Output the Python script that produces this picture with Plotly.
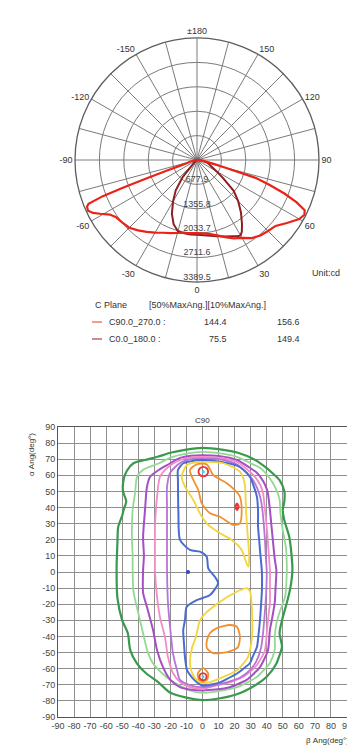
import plotly.graph_objects as go

# ---------------- Polar photometric data (cd vs gamma, deg) ----------------
c90_gamma = [0, 5, 10, 15, 20, 25, 30, 35, 40, 45, 50, 55, 60, 63, 65, 67, 69, 71, 73, 75, 77, 80, 85, 90, 100, 120, 150, 180]
c90_cd = [2030, 2045, 2090, 2170, 2280, 2400, 2500, 2650, 2740, 2790, 2850, 3050, 3280, 3350, 3300, 3000, 2600, 2150, 1700, 800, 450, 250, 100, 40, 15, 5, 0, 0]
c270_gamma = [0, 5, 10, 15, 20, 25, 30, 35, 40, 45, 50, 55, 58, 61, 63, 65, 67, 68, 69, 69.5, 70, 70.5, 71.5, 73, 76, 80, 90, 120, 150, 180]
c270_cd = [2030, 2040, 2060, 2100, 2160, 2230, 2330, 2440, 2550, 2660, 2705, 2760, 2860, 3080, 3240, 3340, 3320, 3250, 2800, 2200, 1500, 900, 450, 300, 200, 100, 30, 10, 0, 0]
c0_gamma = [0, 5, 10, 15, 20, 25, 28, 30, 32, 35, 40, 45, 50, 55, 60, 65, 70, 75, 80, 85, 90, 100, 120, 180]
c0_cd = [2080, 2100, 2140, 2190, 2260, 2340, 2400, 2420, 2350, 2180, 1900, 1620, 1330, 900, 620, 450, 370, 300, 200, 100, 40, 20, 5, 0]
c180_gamma = [0, 5, 10, 15, 20, 25, 30, 35, 40, 42, 45, 50, 60, 90, 180]
c180_cd = [2080, 2075, 2070, 2050, 1900, 1650, 1330, 1030, 620, 300, 150, 60, 20, 5, 0]

radial_vals = [677.9, 1355.8, 2033.7, 2711.6, 3389.5]
radial_labels = ["677.9", "1355.8", "2033.7", "2711.6", "3389.5"]
angle_vals = list(range(0, 360, 15))
angle_labels = {0: "0", 30: "30", 60: "60", 90: "90", 120: "120", 150: "150", 180: "±180",
                210: "-150", 240: "-120", 270: "-90", 300: "-60", 330: "-30"}

legend_planes = ["C90.0_270.0 :", "C0.0_180.0 :"]
legend_50 = ["144.4", "75.5"]
legend_10 = ["156.6", "149.4"]

# ---------------- Iso-candela contour lines (beta, alpha) ----------------
dark_green = [(0, 77), (12, 76), (22, 74), (32, 70), (38, 66), (44, 61), (48, 57), (51, 50), (51, 44), (50, 38.5), (51, 32), (54, 22), (55.5, 10), (56, 1), (54.5, -11), (52, -21), (49.5, -30), (48, -38), (49.5, -46.5), (47.5, -53), (46, -57), (40, -65), (30, -72), (21, -76), (10, -78.5), (0, -79.5), (-10, -78), (-20, -75), (-28, -68), (-35, -63), (-41, -56.5), (-45, -48.5), (-46.5, -38), (-50, -30), (-53, -16), (-53.5, 2), (-53, 18), (-52.5, 28), (-50, 35), (-49, 39), (-47.5, 44), (-49.5, 50), (-49, 58), (-47, 63), (-43, 67.5), (-36, 69.5), (-28, 71.5), (-20, 74), (-10, 76), (0, 77)]
light_green = [(0, 74.5), (12, 73.5), (21.5, 71.5), (30, 67.5), (36, 64.5), (42, 58), (45.5, 52), (48, 45), (48.5, 37), (50, 26), (52, 15), (52.5, 5), (52.5, 0), (51.5, -15), (48, -25), (46, -32), (45, -40), (45, -48), (42, -56.5), (38, -61), (34, -65), (28, -68.5), (21.5, -71.5), (10, -74), (0, -75), (-8, -73.5), (-15, -70), (-20, -67), (-25, -63), (-31, -56.5), (-34.5, -48.5), (-37, -38), (-40, -25.5), (-43, -12), (-43.5, 1), (-43.5, 10), (-44, 22), (-43.5, 38.5), (-42, 49), (-40.8, 59), (-37, 63.5), (-27, 67.5), (-20, 71), (-10, 73.5), (0, 74.5)]
purple = [(0, 72.5), (10, 72), (21.5, 69.5), (29, 65), (34, 61.5), (38, 56), (40.5, 50), (42, 38.5), (43, 28), (44, 18), (45, 8), (46, 1), (45.5, -10), (45, -19), (43.5, -28), (42, -36), (40.8, -48.5), (38.5, -54), (35.8, -59), (31, -64), (27.5, -67), (17, -71.5), (8, -73), (0, -73.5), (-8, -73), (-14, -71.5), (-20, -67), (-24.6, -59), (-28.3, -48.5), (-30.8, -36), (-34.6, -21.7), (-37, -13), (-37, 1), (-36.5, 10), (-37, 21.7), (-35.8, 38.5), (-34.6, 52.8), (-32.7, 59), (-27, 63.5), (-22, 66.4), (-14, 70.8), (-7, 72.2), (0, 72.5)]
pink = [(0, 71.5), (10, 71), (21.5, 68.3), (28, 63.5), (32.7, 59), (36, 54), (37.7, 49), (38.9, 38.5), (40, 28), (40.8, 18), (41.5, 8), (42, 1), (42, -10), (42, -19), (41, -28), (40.2, -36), (38.9, -48.5), (36.5, -53.5), (33.9, -57.7), (29.5, -62), (25.2, -65.2), (15.3, -69), (7, -70.8), (0, -72.5), (-8, -71.5), (-14, -68.3), (-18.4, -62.7), (-21.5, -52.8), (-23.4, -40.3), (-26.5, -28), (-28.3, -15.5), (-29.6, 1), (-29.6, 10), (-29.6, 28), (-28.3, 46.6), (-26.5, 59), (-22, 64.6), (-14, 69.5), (-7, 71.2), (0, 71.5)]
violet = [(0, 70.5), (10, 70), (21, 67), (27, 62), (31.5, 57), (34.5, 51), (36.3, 45), (37.3, 38.5), (38.3, 28), (39, 18), (39.5, 8), (40, 1), (39.8, -10), (39.3, -19.2), (38.6, -28), (37.8, -37), (36.5, -47), (33.5, -55.5), (30, -60.5), (23.5, -65.5), (15, -68.5), (7, -70.5), (0, -71.5), (-7, -70.5), (-14, -67), (-15.9, -60.8), (-18.4, -50.3), (-20.2, -34.1), (-21.5, -19.2), (-22.1, 1), (-22.1, 20), (-22.1, 40), (-22.1, 52.8), (-20.2, 61.5), (-14, 67.7), (-7, 70), (0, 70.5)]
blue = [(0, 69.5), (10.9, 68.5), (21.5, 66), (26, 63), (29.6, 59), (32, 53), (33.9, 46.6), (34.6, 38), (34.6, 27.9), (35.3, 20), (35.8, 13.7), (36.5, 6), (37, 0), (37, -11.2), (36.5, -20), (35.8, -29.8), (35, -38), (33.9, -46.6), (31.5, -52), (29.6, -56.5), (25.5, -60), (21.5, -63), (15, -66.5), (10.9, -68.5), (0.3, -70.5), (-3.4, -68.5), (-7, -65), (-9.7, -60.8), (-11, -52), (-11.5, -45), (-12, -36), (-10.9, -29.8), (-9.8, -21.5), (-3.6, -17.4), (4.7, -14.3), (9.7, -6.8), (7.8, -3.1), (3.6, 2.3), (2.6, 9.5), (-1.6, 12.6), (-7.8, 13.7), (-14, 19.9), (-15, 36.4), (-15.3, 57.1), (-15.3, 63.3), (-12, 67.5), (-6, 69), (0, 69.5)]
yellow_upper = [(0.5, 68.3), (7, 68.2), (13, 67.5), (19, 65), (23.3, 62.3), (25.5, 58), (26.5, 53), (27.1, 38.5), (27.9, 26.1), (28.7, 16), (29.1, 9.5), (28.5, 3.3), (26.5, 8), (24.4, 13.7), (18.2, 19.9), (10.9, 24), (2.6, 30.2), (-1.6, 36.4), (-5.7, 44.7), (-10.9, 53), (-13, 59.2), (-11.5, 63.5), (-9.8, 66.4), (-5, 67.9), (0.5, 68.3)]
yellow_lower = [(27.7, -10), (29.6, -12), (30.8, -23.6), (30.8, -40.3), (28.3, -52.8), (24, -58.5), (21.5, -61), (10.9, -66), (4, -68.5), (0.3, -69), (-3, -67.5), (-5.9, -64), (-7.5, -59), (-7.8, -54.6), (-6.5, -47), (-4, -40), (-1.6, -30), (2, -25.5), (6.5, -21.7), (13, -17), (19, -13.5), (24, -11), (27.7, -10)]
orange_upper = [(-3.6, 66.8), (2.6, 66.8), (6.7, 60.2), (15.1, 55.1), (20, 51), (23.3, 46.7), (24.4, 38.5), (23.3, 30.2), (19.2, 29.2), (10.9, 34.3), (4.7, 36.4), (-0.5, 42.6), (-2.6, 50.9), (-5.7, 57.1), (-7.8, 63.3), (-3.6, 66.8)]
orange_mid = [(4.7, -37.9), (9, -34.8), (17.1, -32.9), (21.5, -34.1), (23.3, -40.3), (22.1, -46.6), (15.3, -49.7), (6.5, -50.3), (2.8, -47.2), (2.8, -42.2), (4.7, -37.9)]
orange_low = [(0.3, -59.5), (3.5, -63), (3, -66.5), (0.3, -68), (-2.4, -66.5), (-2.9, -63), (0.3, -59.5)]
red_upper = [(0.5, 65.3), (2.6, 64.4), (3.5, 62.3), (2.6, 60.2), (0.5, 59.3), (-1.6, 60.2), (-2.5, 62.3), (-1.6, 64.4), (0.5, 65.3)]
red_lower = [(0.3, -62.8), (2, -63.6), (2.5, -65), (2, -66.4), (0.3, -67.2), (-1.4, -66.4), (-1.9, -65), (-1.4, -63.6), (0.3, -62.8)]
red_spot = [(21.5, 42.5), (22.4, 40.5), (21.5, 38.5), (20.6, 40.5), (21.5, 42.5)]
cyan_points = [(0.5, 62.3), (0.3, -65)]
blue_points = [(-9, 0)]

axis_ticks = list(range(-90, 91, 10))

contours = [
    (dark_green, "#3a9a4c", 2.2),
    (light_green, "#93d993", 1.8),
    (purple, "#a54ec6", 2.0),
    (pink, "#f28cc6", 1.8),
    (violet, "#b873d8", 1.8),
    (blue, "#4a6cd2", 2.0),
    (yellow_upper, "#f3d43a", 1.8),
    (yellow_lower, "#f3d43a", 1.8),
    (orange_upper, "#f2902e", 1.8),
    (orange_mid, "#f2902e", 1.8),
    (orange_low, "#f2902e", 1.8),
    (red_upper, "#e83535", 1.8),
    (red_lower, "#e83535", 1.8),
    (red_spot, "#e83535", 2.2),
]

FONT = "Liberation Sans, Arial, sans-serif"
fig = go.Figure()

# polar curves
red_theta = [-g for g in reversed(c270_gamma)] + c90_gamma[1:]
red_r = list(reversed(c270_cd)) + c90_cd[1:]
dark_theta = [-g for g in reversed(c180_gamma)] + c0_gamma[1:]
dark_r = list(reversed(c180_cd)) + c0_cd[1:]

fig.add_trace(go.Scatterpolar(r=dark_r, theta=dark_theta, mode="lines",
                              line=dict(color="#8c1f1f", width=2), subplot="polar",
                              showlegend=False, hoverinfo="skip"))
fig.add_trace(go.Scatterpolar(r=red_r, theta=red_theta, mode="lines",
                              line=dict(color="#ec2218", width=2.2), subplot="polar",
                              showlegend=False, hoverinfo="skip"))
fig.add_trace(go.Scatterpolar(r=radial_vals, theta=[0] * len(radial_vals), mode="text",
                              text=radial_labels, textposition="top center",
                              textfont=dict(size=9, color="#444", family=FONT),
                              subplot="polar", showlegend=False, hoverinfo="skip"))

# contour lines
for pts, col, w in contours:
    fig.add_trace(go.Scatter(x=[p[0] for p in pts], y=[p[1] for p in pts], mode="lines",
                             line=dict(color=col, width=w, shape="spline", smoothing=0.7),
                             xaxis="x", yaxis="y", showlegend=False, hoverinfo="skip"))
fig.add_trace(go.Scatter(x=[p[0] for p in cyan_points], y=[p[1] for p in cyan_points], mode="markers",
                         marker=dict(color="#3fd0e6", size=3), showlegend=False, hoverinfo="skip"))
fig.add_trace(go.Scatter(x=[p[0] for p in blue_points], y=[p[1] for p in blue_points], mode="markers",
                         marker=dict(color="#2a44c8", size=4, symbol="circle"), showlegend=False, hoverinfo="skip"))

# The page body has an 8px default margin: the figure is drawn from (8, 8) of the window.
OFF = 8.0
W = 355.0 - OFF
H = 747.0 - OFF


def py(ypx):
    return (H - (ypx - OFF)) / H


def px(xpx):
    return (xpx - OFF) / W


def note(text, x, y, size=9, xanchor="center", **kw):
    return dict(text=text, x=x, y=y, xref=kw.pop("xref", "paper"), yref="paper", xanchor=xanchor,
                yanchor="middle", showarrow=False, font=dict(size=size, color="#333", family=FONT), **kw)


annotations = [
    note("Unit:cd", px(326), py(273)),
    note("C Plane", px(93), py(305), xanchor="left"),
    note("[50%MaxAng.][10%MaxAng.]", px(147), py(305), xanchor="left"),
    note("C90", 0, py(421), size=8, xref="x"),
    note("C0", px(351), py(569), size=7, textangle=90),
    note("β Ang(deg°)", px(351), py(740), size=8, xanchor="right"),
    note("α Ang(deg°)", px(32), py(455), size=8, textangle=-90),
]
row_y = [322, 339]
dash_colors = ["#f07a68", "#b86a6a"]
shapes = []
for i in range(len(legend_planes)):
    annotations.append(note(legend_planes[i], px(107), py(row_y[i]), xanchor="left"))
    annotations.append(note(legend_50[i], px(229), py(row_y[i]), xanchor="right"))
    annotations.append(note(legend_10[i], px(302), py(row_y[i]), xanchor="right"))
    shapes.append(dict(type="line", xref="paper", yref="paper", x0=px(92), x1=px(102),
                       y0=py(row_y[i]), y1=py(row_y[i]), line=dict(color=dash_colors[i], width=1.5)))

fig.update_layout(
    width=int(W), height=int(H),
    margin=dict(l=0, r=0, t=0, b=0),
    paper_bgcolor="white", plot_bgcolor="white",
    font=dict(family=FONT, color="#333"),
    showlegend=False,
    polar=dict(
        domain=dict(x=[px(75), px(319)], y=[py(282), py(38)]),
        bgcolor="white",
        angularaxis=dict(rotation=-90, direction="counterclockwise", tickmode="array",
                         tickvals=angle_vals, ticktext=[angle_labels.get(a, "") for a in angle_vals],
                         gridcolor="#7a7a7a", gridwidth=1.1, showline=True, linecolor="#5e5e5e", linewidth=1.3,
                         ticks="", tickfont=dict(size=9, color="#333", family=FONT)),
        radialaxis=dict(range=[0, 3389.5], tickmode="array", tickvals=radial_vals, showticklabels=False,
                        gridcolor="#7a7a7a", gridwidth=1.1, showline=False, ticks="", angle=-90),
    ),
    xaxis=dict(domain=[px(58), px(347)], range=[-90, 90], tickmode="array", tickvals=axis_ticks,
               ticktext=[str(t) for t in axis_ticks], showgrid=True, gridcolor="#8e8e8e", gridwidth=1,
               zeroline=False, showline=True, mirror=True, linecolor="#555", linewidth=1,
               ticks="", tickfont=dict(size=9, color="#444", family=FONT), automargin=False,
               anchor="y", fixedrange=True),
    yaxis=dict(domain=[py(717), py(427)], range=[-90, 90], tickmode="array", tickvals=axis_ticks,
               ticktext=[str(t) for t in axis_ticks], showgrid=True, gridcolor="#8e8e8e", gridwidth=1,
               zeroline=False, showline=True, mirror=True, linecolor="#555", linewidth=1,
               ticks="", tickfont=dict(size=9, color="#444", family=FONT), automargin=False,
               anchor="x", fixedrange=True),
    annotations=annotations,
    shapes=shapes,
)

fig.write_html("out.html")
